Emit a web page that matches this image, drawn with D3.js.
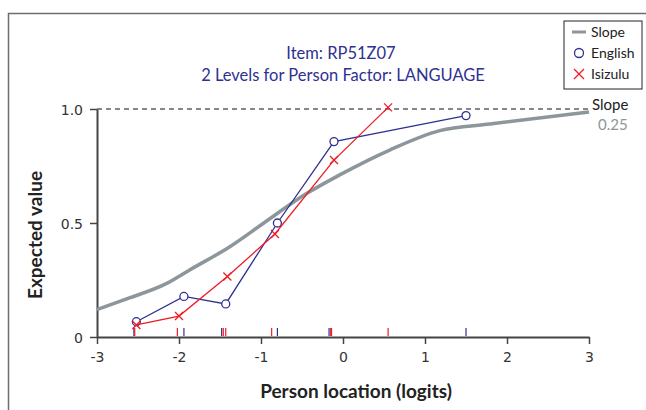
<!DOCTYPE html>
<html>
<head>
<meta charset="utf-8">
<script src="https://cdn.jsdelivr.net/npm/d3@7"></script>
<style>
    body { margin: 0; background: #fff; }
    .axisText { font-family: Lato, "Open Sans", sans-serif; font-size: 19px; font-weight: bold; fill: #222; }
</style>
</head>
<body>
<div class="chart"></div>
<script>

// expected value curve (slope)
var slopeX = [-3, -2.68, -2.15, -1.87, -1.38, -0.97, -0.44, -0.04, 0.57, 1.18, 1.79, 3];
var slopeY = [0.12, 0.162, 0.235, 0.294, 0.396, 0.499, 0.630, 0.711, 0.820, 0.905, 0.934, 0.987];

// observed class means
var englishX = [-2.52, -1.94, -1.43, -0.80, -0.11, 1.50];
var englishY = [0.067, 0.178, 0.145, 0.50, 0.857, 0.971];
var isizuluX = [-2.52, -2.00, -1.41, -0.83, -0.11, 0.55];
var isizuluY = [0.053, 0.092, 0.265, 0.452, 0.776, 1.007];

// rug marks under the plot
var rugEnglish = [-2.55, -1.94, -1.48, -0.80, -0.17, 1.50];
var rugIsizulu = [-2.54, -2.02, -1.46, -1.43, -0.87, -0.15, -0.14, 0.55];

var xTicks = [-3, -2, -1, 0, 1, 2, 3];
var xTickLabels = ["-3", "-2", "-1", "0", "1", "2", "3"];
var yTicks = [0, 0.5, 1.0];
var yTickLabels = ["0", "0.5", "1.0"];

var svgWidth = 646;
var svgHeight = 410;

var margin = { top: 109, right: 57, bottom: 73, left: 97 };
var width = svgWidth - margin.left - margin.right;
var height = svgHeight - margin.top - margin.bottom;

var svg = d3.select(".chart")
    .append("svg")
    .attr("width", svgWidth)
    .attr("height", svgHeight);

// outer frame
svg.append("path")
    .attr("d", "M8.5,410 L8.5,13.5 L646,13.5")
    .attr("fill", "none")
    .attr("stroke", "#6d6d6d")
    .attr("stroke-width", 1.5);

var chartGroup = svg.append("g")
    .attr("transform", `translate(${margin.left}, ${margin.top})`);

var x = d3.scaleLinear().domain([-3, 3]).range([0, width]);
var y = d3.scaleLinear().domain([0, 1]).range([height, 0]);

var blue = "#2e3192";
var red = "#ed1c24";
var gray = "#8c969b";

// dashed line at 1.0
chartGroup.append("line")
    .attr("x1", 0).attr("x2", width)
    .attr("y1", y(1)).attr("y2", y(1))
    .attr("stroke", "#111")
    .attr("stroke-dasharray", "5,4")
    .attr("stroke-width", 1);

// axes
var bottomAxis = d3.axisBottom(x).tickValues(xTicks).tickSize(7).tickSizeOuter(0)
    .tickFormat((d, i) => xTickLabels[i]);
var leftAxis = d3.axisLeft(y).tickValues(yTicks).tickSize(7).tickSizeOuter(0)
    .tickFormat((d, i) => yTickLabels[i]);

var xg = chartGroup.append("g")
    .attr("transform", `translate(0, ${height})`)
    .call(bottomAxis);
var yg = chartGroup.append("g").call(leftAxis);

[xg, yg].forEach(function (g) {
    g.attr("font-family", "'DejaVu Sans', sans-serif").attr("font-size", 14);
    g.select(".domain").attr("stroke", "#444").attr("stroke-width", 2);
    g.selectAll(".tick line").attr("stroke", "#444").attr("stroke-width", 1.5);
    g.selectAll(".tick text").attr("fill", "#333");
});
xg.selectAll(".tick text").attr("y", 12).attr("dy", "0.9em");
yg.selectAll(".tick text").attr("x", -14).attr("dy", "0.36em");

// rug
chartGroup.selectAll(".rugE")
    .data(rugEnglish)
    .enter()
    .append("line")
    .attr("x1", d => x(d)).attr("x2", d => x(d))
    .attr("y1", height - 9).attr("y2", height - 1)
    .attr("stroke", blue)
    .attr("stroke-width", 1.2);
chartGroup.selectAll(".rugI")
    .data(rugIsizulu)
    .enter()
    .append("line")
    .attr("x1", d => x(d)).attr("x2", d => x(d))
    .attr("y1", height - 9).attr("y2", height - 1)
    .attr("stroke", red)
    .attr("stroke-width", 1.2);

// slope curve
var slopeData = slopeX.map((d, i) => [d, slopeY[i]]);
chartGroup.append("path")
    .datum(slopeData)
    .attr("fill", "none")
    .attr("stroke", gray)
    .attr("stroke-width", 3.5)
    .attr("d", d3.line().x(d => x(d[0])).y(d => y(d[1])).curve(d3.curveMonotoneX));

// English
var engData = englishX.map((d, i) => [d, englishY[i]]);
chartGroup.append("path")
    .datum(engData)
    .attr("fill", "none")
    .attr("stroke", blue)
    .attr("stroke-width", 1.3)
    .attr("d", d3.line().x(d => x(d[0])).y(d => y(d[1])));
chartGroup.selectAll(".engPt")
    .data(engData)
    .enter()
    .append("circle")
    .attr("cx", d => x(d[0]))
    .attr("cy", d => y(d[1]))
    .attr("r", 4)
    .attr("fill", "#fff")
    .attr("stroke", blue)
    .attr("stroke-width", 1.3);

// Isizulu
var zuData = isizuluX.map((d, i) => [d, isizuluY[i]]);
chartGroup.append("path")
    .datum(zuData)
    .attr("fill", "none")
    .attr("stroke", red)
    .attr("stroke-width", 1.3)
    .attr("d", d3.line().x(d => x(d[0])).y(d => y(d[1])));
chartGroup.selectAll(".zuPt")
    .data(zuData)
    .enter()
    .append("path")
    .attr("transform", d => `translate(${x(d[0])}, ${y(d[1])})`)
    .attr("d", "M-4,-4L4,4M-4,4L4,-4")
    .attr("stroke", red)
    .attr("stroke-width", 1.3);

// slope label at right
chartGroup.append("text")
    .attr("x", width + 3).attr("y", y(1) + 1)
    .attr("font-family", "Lato, sans-serif")
    .attr("font-size", "15px")
    .attr("fill", "#222")
    .text("Slope");
chartGroup.append("text")
    .attr("x", width + 9).attr("y", y(1) + 21)
    .attr("font-family", "Lato, sans-serif")
    .attr("font-size", "15px")
    .attr("fill", gray)
    .text("0.25");

// titles
svg.append("text")
    .attr("x", 341).attr("y", 59)
    .attr("text-anchor", "middle")
    .attr("font-family", "Lato, sans-serif")
    .attr("font-size", "16.5px")
    .attr("fill", blue)
    .text("Item: RP51Z07");
svg.append("text")
    .attr("x", 343).attr("y", 81)
    .attr("text-anchor", "middle")
    .attr("font-family", "Lato, sans-serif")
    .attr("font-size", "16.5px")
    .attr("fill", blue)
    .text("2 Levels for Person Factor: LANGUAGE");

// axis labels
chartGroup.append("text")
    .attr("transform", "rotate(-90)")
    .attr("y", -margin.left + 42)
    .attr("x", -(235 - margin.top))
    .attr("text-anchor", "middle")
    .attr("class", "axisText")
    .text("Expected value");

chartGroup.append("text")
    .attr("transform", `translate(356, ${398 - margin.top})`)
    .attr("text-anchor", "middle")
    .attr("class", "axisText")
    .text("Person location (logits)")
    .attr("x", -margin.left);

// legend
var legend = svg.append("g").attr("transform", "translate(564, 21)");
legend.append("rect")
    .attr("width", 78).attr("height", 68)
    .attr("fill", "#fff")
    .attr("stroke", "#222")
    .attr("stroke-width", 1);
var legendItems = ["Slope", "English", "Isizulu"];
legendItems.forEach(function (name, i) {
    var ly = 11 + i * 21;
    var g = legend.append("g").attr("transform", `translate(15, ${ly})`);
    if (i === 0) {
        g.append("line").attr("x1", -7).attr("x2", 7)
            .attr("stroke", gray).attr("stroke-width", 3);
    } else if (i === 1) {
        g.append("circle").attr("r", 4.5).attr("fill", "none")
            .attr("stroke", blue).attr("stroke-width", 1.3);
    } else {
        g.append("path").attr("d", "M-5,-5L5,5M-5,5L5,-5")
            .attr("stroke", red).attr("stroke-width", 1.3);
    }
    legend.append("text")
        .attr("x", 27).attr("y", ly + 5)
        .attr("font-family", "Lato, sans-serif")
        .attr("font-size", "14px")
        .attr("fill", "#222")
        .text(name);
});

</script>
</body>
</html>
